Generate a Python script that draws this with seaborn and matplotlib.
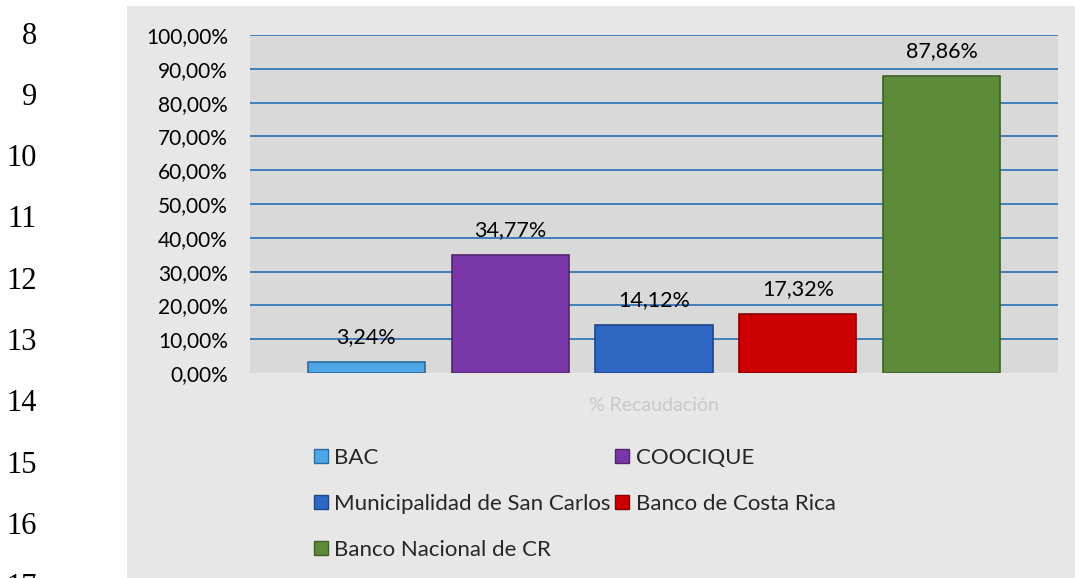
import pandas as pd
import numpy as np
import matplotlib
matplotlib.use("Agg")
import matplotlib.pyplot as plt
from matplotlib.patches import Rectangle, Patch
from matplotlib.ticker import FuncFormatter
import seaborn as sns

# ---------------------------------------------------------------------------
# Data
# ---------------------------------------------------------------------------
bancos = [
    "BAC",
    "COOCIQUE",
    "Municipalidad de San Carlos",
    "Banco de Costa Rica",
    "Banco Nacional de CR",
]
recaudacion = [3.24, 34.77, 14.12, 17.32, 87.86]
serie = "% Recaudación"
colores = ["#4ea6e6", "#7a37a8", "#2e67c2", "#cc0000", "#5d8b3a"]
bordes = ["#2b6b9e", "#53256f", "#1d4588", "#8a0000", "#3f5f27"]
y_ticks = [0, 10, 20, 30, 40, 50, 60, 70, 80, 90, 100]
numeros_linea = ["8", "9", "10", "11", "12", "13", "14", "15", "16", "17"]

df = pd.DataFrame({
    "serie": [serie] * len(bancos),
    "banco": bancos,
    "valor": recaudacion,
})

# ---------------------------------------------------------------------------
# Style
# ---------------------------------------------------------------------------
sns.set_theme(style="white")
plt.rcParams["font.family"] = ["Lato", "DejaVu Sans"]

W, H = 1075, 578
fig = plt.figure(figsize=(W / 100, H / 100), dpi=100)
fig.patch.set_facecolor("white")

# textured chart background (flat approximation)
fig.patches.append(Rectangle((127 / W, 0), 1 - 127 / W, 1 - 6 / H,
                             transform=fig.transFigure, facecolor="#e7e7e7",
                             edgecolor="none", zorder=-10))

# Word line numbers on the left margin
for i, num in enumerate(numeros_linea):
    fig.text(37 / W, 1 - (36 + 61.3 * i) / H, num, ha="right", va="center",
             fontsize=22, family="Liberation Serif", color="black")

ax = fig.add_axes([250 / W, 1 - 373 / H, 808 / W, 338 / H])
ax.set_facecolor("#d9d9d9")

sns.barplot(
    data=df, x="serie", y="valor", hue="banco",
    hue_order=bancos, palette=colores,
    width=0.89, gap=0.186, saturation=1,
    legend=False, ax=ax, zorder=3,
)

for cont, borde, v in zip(ax.containers, bordes, recaudacion):
    for bar in cont:
        bar.set_edgecolor(borde)
        bar.set_linewidth(1.2)
    ax.bar_label(cont, labels=[f"{v:.2f}".replace(".", ",") + "%"],
                 padding=11, fontsize=15.5, color="black")

ax.set_xlim(-0.5, 0.5)
ax.set_ylim(0, 100)
ax.set_yticks(y_ticks)
ax.yaxis.set_major_formatter(FuncFormatter(lambda v, p: f"{v:.2f}".replace(".", ",") + "%"))
ax.hlines(y_ticks[1:], 0, 1, transform=ax.get_yaxis_transform(),
          color="#3377bb", linewidth=1.3, zorder=1)

ax.tick_params(axis="y", length=0, pad=16, labelsize=15, labelcolor="black")
ax.tick_params(axis="x", length=0, pad=17, labelsize=14, labelcolor="#c9c9c9")
ax.set_xlabel("")
ax.set_ylabel("")
for s in ax.spines.values():
    s.set_visible(False)

# legend, filled row by row like the original
handles = [Patch(facecolor=c, edgecolor=b, linewidth=1) for c, b in zip(colores, bordes)]
orden = [0, 2, 4, 1, 3]
fig.legend(
    [handles[i] for i in orden], [bancos[i] for i in orden],
    ncol=2, loc="upper left", bbox_to_anchor=(314 / W, 1 - 448 / H),
    frameon=False, fontsize=16, handlelength=0.62, handleheight=0.62,
    handletextpad=0.3, columnspacing=0.2, labelspacing=1.17, borderpad=0,
    borderaxespad=0,
)

plt.savefig("out.png", dpi=100)
